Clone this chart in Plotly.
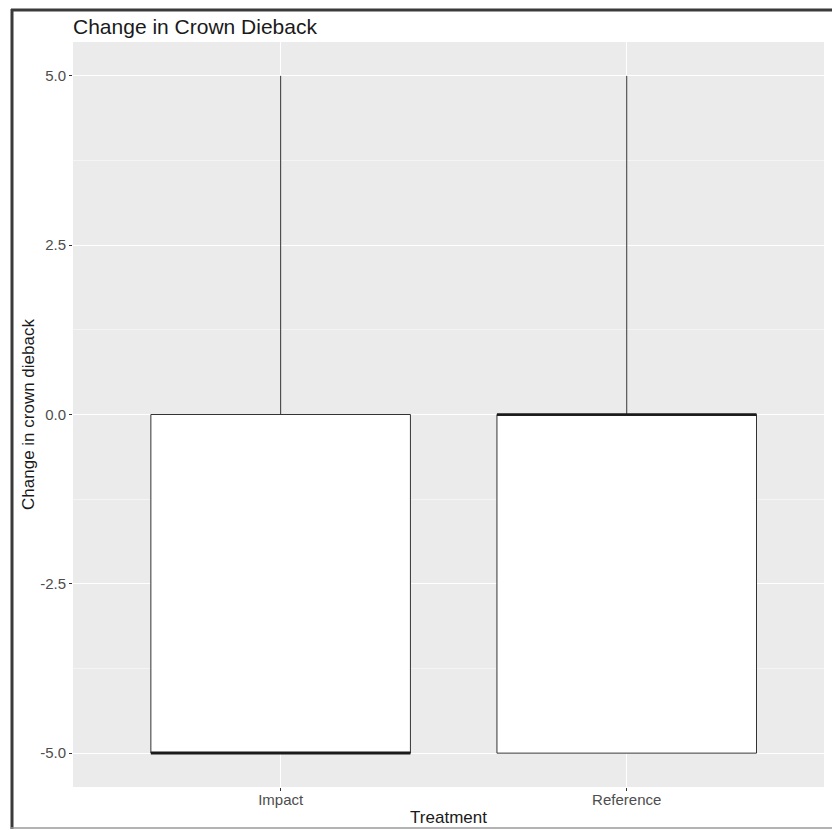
import plotly.graph_objects as go

# Five-number summaries of the change in crown dieback per treatment
treatments = ["Impact", "Reference"]
positions = [1, 2]
lower_whisker = [-5, -5]
q1_values = [-5, -5]
median_values = [-5, 0]
q3_values = [0, 0]
upper_whisker = [5, 5]

y_ticks = [-5.0, -2.5, 0.0, 2.5, 5.0]
y_tick_text = ["-5.0", "-2.5", "0.0", "2.5", "5.0"]

W, H = 832, 830
margin = dict(l=73, r=8, t=42, b=43)
box_width = 0.75

fig = go.Figure()

for pos, lo, q1, med, q3, hi in zip(positions, lower_whisker, q1_values,
                                     median_values, q3_values, upper_whisker):
    fig.add_trace(go.Box(
        x=[pos], q1=[q1], median=[med], q3=[q3],
        lowerfence=[lo], upperfence=[hi],
        width=box_width, whiskerwidth=0,
        fillcolor="white",
        line=dict(color="#333333", width=1),
        boxpoints=False, showlegend=False, hoverinfo="skip",
    ))
    # heavier median bar, as in ggplot's fatten
    fig.add_trace(go.Scatter(
        x=[pos - box_width / 2, pos + box_width / 2], y=[med, med],
        mode="lines", line=dict(color="#1a1a1a", width=2.6),
        showlegend=False, hoverinfo="skip",
    ))

# outer frame around the whole graphic
pw = W - margin["l"] - margin["r"]
ph = H - margin["t"] - margin["b"]
def px(x):
    return (x - margin["l"]) / pw
def py(y):
    return 1 - (y - margin["t"]) / ph

frame = [
    dict(x0=px(11), x1=px(832), y0=py(10), y1=py(10), color="#3a3a3a", width=3),
    dict(x0=px(12), x1=px(12), y0=py(9), y1=py(829), color="#3a3a3a", width=3),
    dict(x0=px(11), x1=px(832), y0=py(828), y1=py(828), color="#9a9a9a", width=1.5),
]
for f in frame:
    fig.add_shape(type="line", xref="paper", yref="paper",
                  x0=f["x0"], x1=f["x1"], y0=f["y0"], y1=f["y1"],
                  line=dict(color=f["color"], width=f["width"]), layer="above")

fig.update_layout(
    width=W, height=H,
    margin=dict(margin, autoexpand=False),
    paper_bgcolor="white",
    plot_bgcolor="#EBEBEB",
    font=dict(family="Liberation Sans, Arial, sans-serif", color="#1a1a1a"),
    title=dict(text="Change in Crown Dieback", x=margin["l"] / W, xanchor="left",
               y=1 - 27 / H, yanchor="middle",
               font=dict(size=21, color="#1a1a1a")),
    xaxis=dict(
        range=[0.4, 2.57],
        tickvals=positions, ticktext=treatments,
        ticks="outside", ticklen=3, tickcolor="#333333",
        tickfont=dict(size=15, color="#4D4D4D"), ticklabelstandoff=-4,
        showgrid=True, gridcolor="white", gridwidth=1.2,
        zeroline=False, showline=False, automargin=False,
        title=dict(text="Treatment", font=dict(size=17, color="#1a1a1a"), standoff=4),
    ),
    yaxis=dict(
        range=[-5.5, 5.5],
        tickvals=y_ticks, ticktext=y_tick_text,
        ticks="outside", ticklen=3, tickcolor="#333333",
        tickfont=dict(size=15, color="#4D4D4D"),
        showgrid=True, gridcolor="white", gridwidth=1.2,
        minor=dict(tickvals=[-3.75, -1.25, 1.25, 3.75], showgrid=True,
                   gridcolor="#F4F4F4", gridwidth=0.6, ticks=""),
        zeroline=False, showline=False, automargin=False,
        title=dict(text="Change in crown dieback", font=dict(size=17, color="#1a1a1a"),
                   standoff=1),
    ),
)

fig.write_html("out.html")
